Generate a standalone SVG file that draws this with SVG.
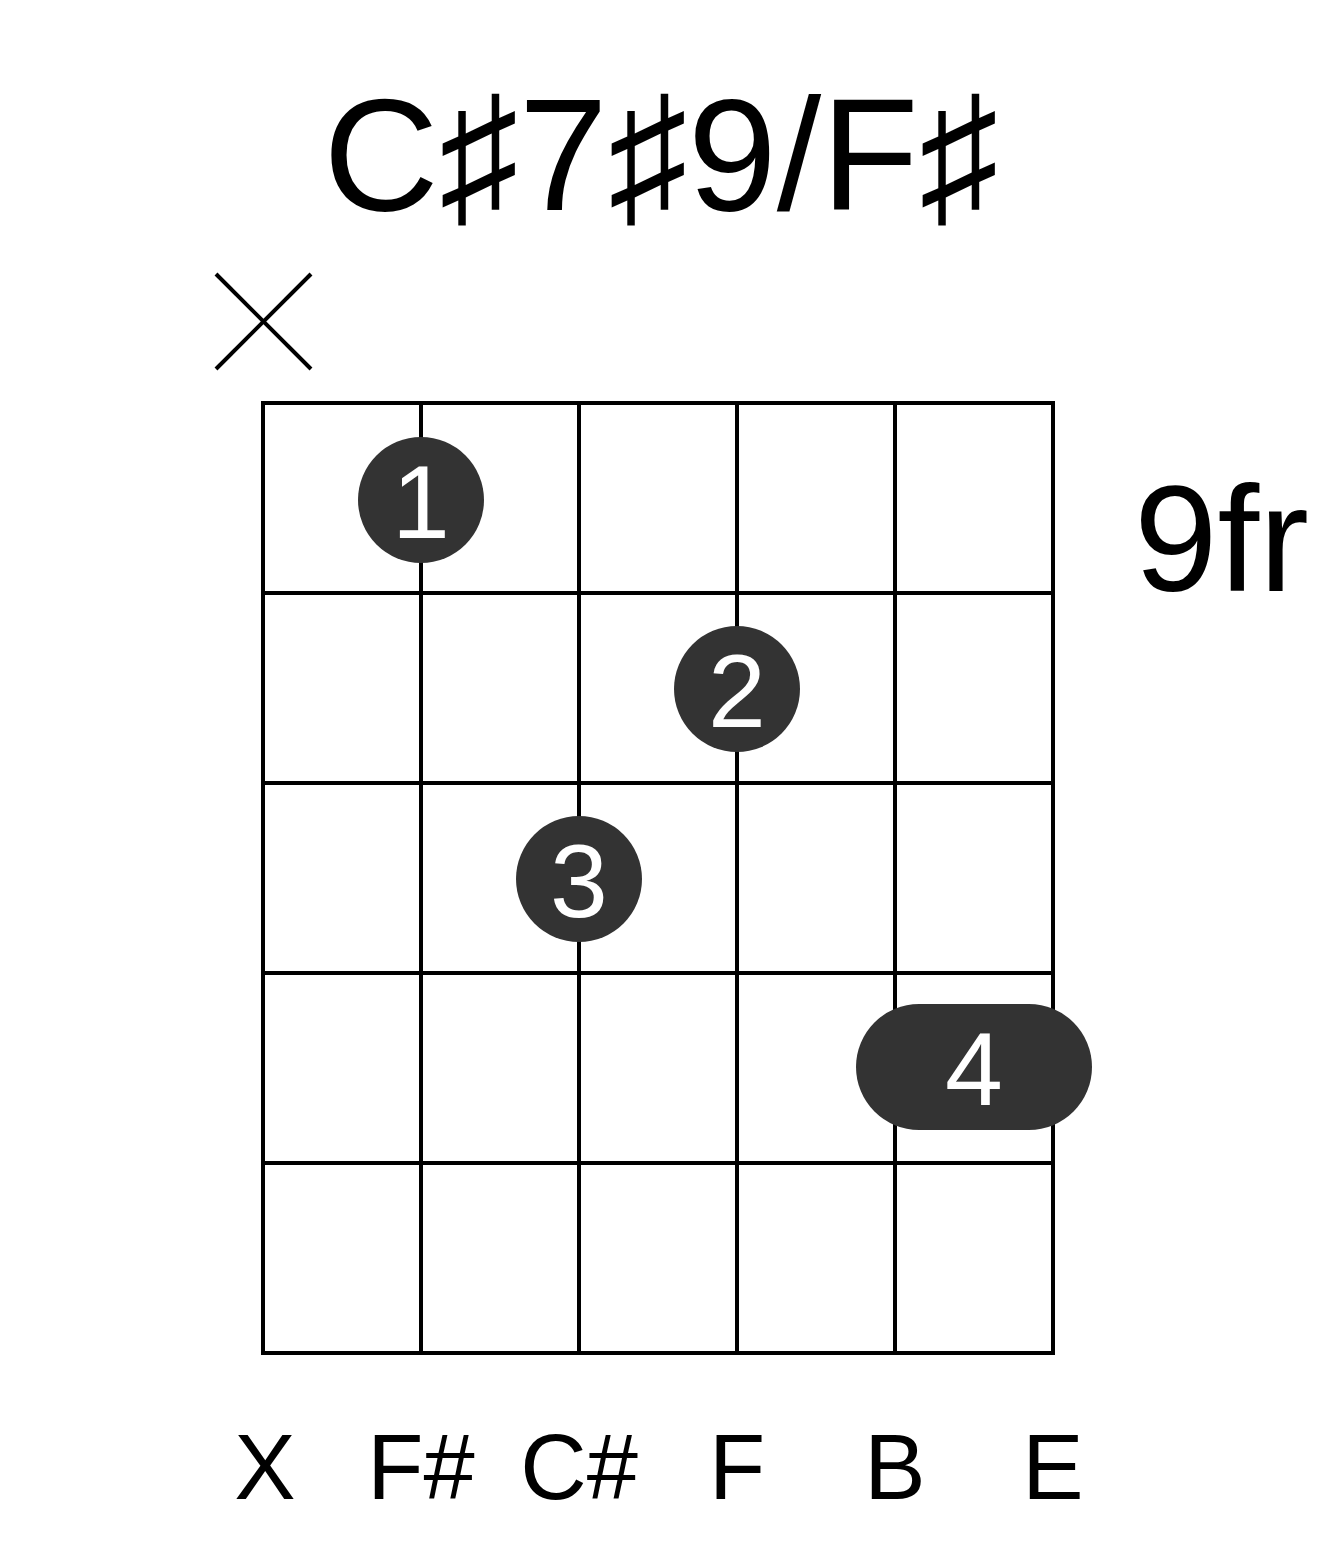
<svg xmlns="http://www.w3.org/2000/svg" width="1317" height="1551" viewBox="0 0 1317 1551">
<style>
.grid line{stroke:#000;stroke-width:4;stroke-linecap:square}
.mute{stroke:#000;stroke-width:4}
.dot{fill:#333}
.num{fill:#fff;font-family:"Liberation Sans",Arial,sans-serif;font-size:104px;text-anchor:middle}
.lbl{fill:#000;font-family:"Liberation Sans",Arial,sans-serif;font-size:92px;text-anchor:middle}
.title{fill:#000;font-family:"Liberation Sans","DejaVu Sans",sans-serif;font-size:160px;text-anchor:middle}
.fr{fill:#000;font-family:"Liberation Sans",Arial,sans-serif;font-size:150px}
</style>
<rect width="1317" height="1551" fill="#fff"/>
<text class="title" x="661" y="210">C♯7♯9/F♯</text>
<g id="grid" class="grid">
<line x1="263" y1="403" x2="1053" y2="403"/>
<line x1="263" y1="593" x2="1053" y2="593"/>
<line x1="263" y1="783" x2="1053" y2="783"/>
<line x1="263" y1="973" x2="1053" y2="973"/>
<line x1="263" y1="1163" x2="1053" y2="1163"/>
<line x1="263" y1="1353" x2="1053" y2="1353"/>
<line x1="263" y1="403" x2="263" y2="1353"/>
<line x1="421" y1="403" x2="421" y2="1353"/>
<line x1="579" y1="403" x2="579" y2="1353"/>
<line x1="737" y1="403" x2="737" y2="1353"/>
<line x1="895" y1="403" x2="895" y2="1353"/>
<line x1="1053" y1="403" x2="1053" y2="1353"/>
</g>
<g id="mute">
<line class="mute" x1="216" y1="274" x2="311" y2="369"/>
<line class="mute" x1="311" y1="274" x2="216" y2="369"/>
</g>
<text class="fr" x="1134" y="591">9fr</text>
<g id="finger1"><circle class="dot" cx="421" cy="500" r="63"/><text class="num" x="421" y="538">1</text></g>
<g id="finger2"><circle class="dot" cx="737" cy="689" r="63"/><text class="num" x="737" y="727">2</text></g>
<g id="finger3"><circle class="dot" cx="579" cy="879" r="63"/><text class="num" x="579" y="917">3</text></g>
<g id="finger4"><rect class="dot" x="856" y="1004" width="236" height="126" rx="63" ry="63"/><text class="num" x="974" y="1105">4</text></g>
<g id="labels">
<text class="lbl" x="265" y="1499">X</text>
<text class="lbl" x="421" y="1499">F#</text>
<text class="lbl" x="579" y="1499">C#</text>
<text class="lbl" x="737" y="1499">F</text>
<text class="lbl" x="895" y="1499">B</text>
<text class="lbl" x="1053" y="1499">E</text>
</g>
</svg>
